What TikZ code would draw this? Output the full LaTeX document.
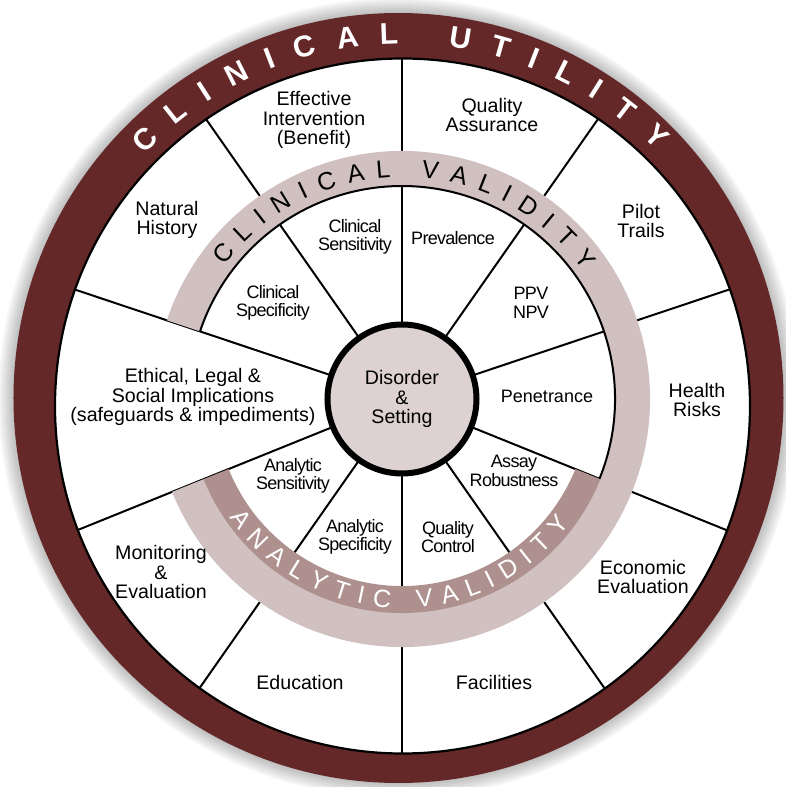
\documentclass[tikz,border=0pt]{standalone}
\usepackage{fontspec}
\setmainfont{Liberation Sans}
\newfontfamily\narrowsans[LetterSpace=-4]{Liberation Sans}
\usepackage{tikz}
\usetikzlibrary{decorations.text}
\definecolor{utility}{RGB}{99,40,39}
\definecolor{validity}{RGB}{209,192,192}
\definecolor{analytic}{RGB}{174,145,143}
\definecolor{hubfill}{RGB}{221,209,209}

\begin{document}
\begin{tikzpicture}[x=1pt, y=1pt,
  spoke/.style={line width=2pt},
  outerlbl/.style={align=center, font=\fontsize{19.6}{19.5}\selectfont},
  innerlbl/.style={align=center, font=\fontsize{18}{18.5}\selectfont\narrowsans},
  hub/.style={circle, draw, line width=6pt, fill=hubfill, minimum size=149pt,
    align=center, font=\fontsize{19.6}{19.5}\selectfont}]
  \useasboundingbox (-402,-388) rectangle (383,399);
  \foreach \r in {386,388,...,400}
    \fill[black, opacity=0.035] (-3.5,1) circle (\r);
  \fill[utility] (-3.5,1) circle (385);
  \fill[white] (0.5,-7) circle (347.5);
  \begin{scope}
    \clip (0.5,-7) circle (347.5);
    \draw[spoke] (90:74) -- (90:400);
    \draw[spoke] (55:74) -- (55:400);
    \draw[spoke] (18.5:74) -- (18.5:400);
    \draw[spoke] (-22:74) -- (-22:400);
    \draw[spoke] (-55:74) -- (-55:400);
    \draw[spoke] (-90:74) -- (-90:400);
    \draw[spoke] (235:74) -- (235:400);
    \draw[spoke] (202:74) -- (202:400);
    \draw[spoke] (161.5:74) -- (161.5:400);
    \draw[spoke] (125:74) -- (125:400);
  \end{scope}
  \draw[line width=2.2pt] (0.5,-7) circle (347.5);
  \fill[validity] (-158:213) arc[start angle=-158, end angle=161.5, radius=213]
    -- (161.5:248) arc[start angle=161.5, end angle=-158, radius=248] -- cycle;
  \fill[analytic] (-158:187) arc[start angle=-158, end angle=-22, radius=187]
    -- (-22:214) arc[start angle=-22, end angle=-158, radius=214] -- cycle;
  \draw[line width=2pt] (-22:213) arc[start angle=-22, end angle=161.5, radius=213];
  \node[hub] (hub) at (0,0) {Disorder\\\&\\Setting};

  \path[decorate, decoration={text along path, text align={fit to path}, text color=white,
    text={|\fontsize{30}{30}\selectfont\bfseries|CLINICAL UTILITY}}]
    (136.5:355.5) arc[start angle=136.5, end angle=44.3, radius=355.5];
  \path[decorate, decoration={text along path, text align={fit to path},
    text={|\fontsize{25}{25}\selectfont|CLINICAL VALIDITY}}]
    (143.1:222) arc[start angle=143.1, end angle=35.2, radius=222];
  \path[decorate, decoration={text along path, text align={fit to path}, text color=white,
    text={|\fontsize{25}{25}\selectfont|ANALYTIC VALIDITY}}]
    (-145.5:209) arc[start angle=-145.5, end angle=-36.6, radius=209];

  \node[outerlbl] (benefit) at (-88,279) {Effective\\Intervention\\(Benefit)};
  \node[outerlbl] (qa) at (90,284) {Quality\\Assurance};
  \node[outerlbl] (pilot) at (239,178) {Pilot\\Trails};
  \node[outerlbl] (risks) at (295,-1) {Health\\Risks};
  \node[outerlbl] (econ) at (241,-178) {Economic\\Evaluation};
  \node[outerlbl] (facil) at (92,-283) {Facilities};
  \node[outerlbl] (educ) at (-102,-283) {Education};
  \node[outerlbl] (monit) at (-241,-173) {Monitoring\\\&\\Evaluation};
  \node[outerlbl] (elsi) at (-209,2) {Ethical, Legal \&\\Social Implications\\(safeguards \& impediments)};
  \node[outerlbl] (nathist) at (-235,179) {Natural\\History};
  \node[innerlbl] (csens) at (-47,162) {Clinical\\Sensitivity};
  \node[innerlbl] (cspec) at (-129,96) {Clinical\\Specificity};
  \node[innerlbl] (prev) at (51,161) {Prevalence};
  \node[innerlbl] (ppv) at (129,96) {PPV\\NPV};
  \node[innerlbl, font=\fontsize{18}{18.5}\selectfont] (penet) at (145,3) {Penetrance};
  \node[innerlbl] (assay) at (112,-72) {Assay\\Robustness};
  \node[innerlbl] (qc) at (46,-138) {Quality\\Control};
  \node[innerlbl] (aspec) at (-47,-138) {Analytic\\Specificity};
  \node[innerlbl] (asens) at (-109,-77) {Analytic\\Sensitivity};
\end{tikzpicture}
\end{document}
